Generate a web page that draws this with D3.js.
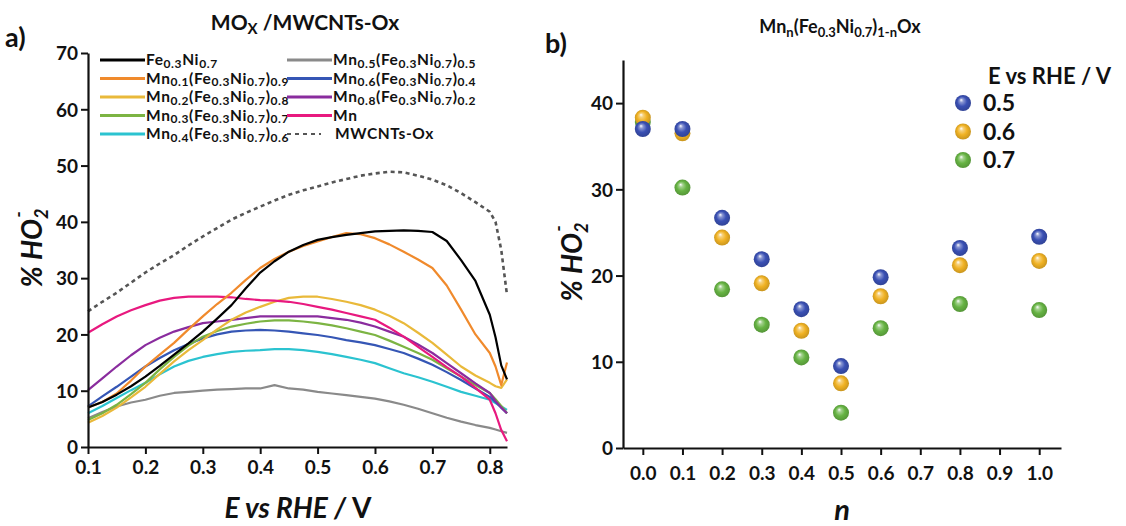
<!DOCTYPE html>
<html><head><meta charset="utf-8">
<script src="https://cdn.jsdelivr.net/npm/d3@7"></script>
<style>
html,body{margin:0;padding:0;background:#fff;}
svg text{font-family:Lato,"Open Sans",sans-serif;fill:#111;}
</style></head>
<body><svg id="c" width="1126" height="526"></svg>
<script>
// ---------- Panel a data ----------
const potentialA = [0.1,0.125,0.15,0.175,0.2,0.225,0.25,0.275,0.3,0.325,0.35,0.375,0.4,0.425,0.45,0.475,0.5,0.525,0.55,0.575,0.6,0.625,0.65,0.675,0.7,0.725,0.75,0.775,0.8,0.81,0.82,0.83];
const fe03ni07 = [7.0,8.0,9.3,10.8,12.5,14.4,16.4,18.4,20.5,22.8,25.2,28.2,31.0,33.0,34.7,35.9,36.8,37.3,37.7,38.0,38.3,38.4,38.5,38.4,38.2,36.6,33.2,29.5,23.5,19.5,14.5,12.0];
const mn01 = [7.0,8.0,9.5,11.8,14.3,16.4,18.5,20.9,23.2,25.4,27.4,29.7,31.8,33.4,34.7,35.7,36.5,37.3,38.0,37.8,37.1,36.0,34.7,33.3,31.8,28.7,24.4,20.0,16.7,14.3,11.0,15.0];
const mn02 = [4.3,5.5,7.0,8.8,10.7,13.0,15.2,17.2,19.0,20.9,22.6,23.9,24.9,25.8,26.5,26.7,26.7,26.3,25.8,25.2,24.4,23.3,22.0,20.3,18.5,16.4,14.3,12.7,11.4,10.8,10.5,12.0];
const mn03 = [4.8,6.0,7.5,9.4,11.4,13.8,16.0,18.0,19.6,20.6,21.4,21.9,22.3,22.5,22.5,22.3,22.0,21.6,21.1,20.5,19.9,18.9,17.8,16.7,15.5,14.0,12.5,11.0,9.6,8.5,7.3,6.0];
const mn04 = [6.0,7.3,8.7,10.1,11.4,12.9,14.3,15.3,16.0,16.5,16.9,17.1,17.2,17.4,17.4,17.2,16.9,16.5,16.0,15.5,14.9,14.0,13.1,12.4,11.6,10.7,9.8,9.1,8.4,7.8,7.2,6.6];
const mn05 = [5.1,6.2,7.2,7.9,8.4,9.1,9.6,9.8,10.0,10.2,10.3,10.4,10.4,11.0,10.4,10.2,9.8,9.5,9.2,8.9,8.6,8.1,7.5,6.8,6.0,5.2,4.5,3.9,3.4,3.1,2.8,2.5];
const mn06 = [7.2,9.0,10.7,12.5,14.3,15.8,17.2,18.3,19.3,20.0,20.5,20.7,20.8,20.7,20.5,20.2,19.9,19.5,19.0,18.6,18.1,17.4,16.7,15.7,14.6,13.3,11.9,10.4,8.9,8.0,7.0,6.0];
const mn08 = [10.1,12.2,14.3,16.3,18.1,19.4,20.5,21.3,22.0,22.3,22.6,22.9,23.2,23.2,23.2,23.2,23.2,22.9,22.6,22.1,21.4,20.5,19.6,18.2,16.7,14.9,13.1,11.3,9.6,8.2,7.0,6.0];
const mnOnly = [20.3,21.8,23.2,24.3,25.2,26.0,26.5,26.7,26.7,26.7,26.6,26.3,26.1,26.0,25.8,25.4,24.9,24.4,23.8,23.2,22.6,21.2,19.6,17.8,16.0,14.2,12.5,10.5,8.4,6.0,3.0,1.0];
const mwcnt = [24.1,25.8,27.4,29.2,31.0,32.6,34.1,35.8,37.4,38.9,40.4,41.6,42.7,43.8,44.8,45.6,46.3,47.0,47.6,48.2,48.6,48.9,48.8,48.2,47.5,46.5,45.1,43.5,41.8,40.0,35.0,27.0];
const seriesNamesA = ["Fe_{0.3}Ni_{0.7}","Mn_{0.1}(Fe_{0.3}Ni_{0.7})_{0.9}","Mn_{0.2}(Fe_{0.3}Ni_{0.7})_{0.8}","Mn_{0.3}(Fe_{0.3}Ni_{0.7})_{0.7}","Mn_{0.4}(Fe_{0.3}Ni_{0.7})_{0.6}","Mn_{0.5}(Fe_{0.3}Ni_{0.7})_{0.5}","Mn_{0.6}(Fe_{0.3}Ni_{0.7})_{0.4}","Mn_{0.8}(Fe_{0.3}Ni_{0.7})_{0.2}","Mn","MWCNTs-Ox"];
const seriesValuesA = [fe03ni07,mn01,mn02,mn03,mn04,mn05,mn06,mn08,mnOnly,mwcnt];
const xTicksA = [0.1,0.2,0.3,0.4,0.5,0.6,0.7,0.8];
const yTicksA = [0,10,20,30,40,50,60,70];

// ---------- Panel b data ----------
const nValues = [0.0,0.1,0.2,0.3,0.4,0.5,0.6,0.8,1.0];
const e05 = [37.0,37.0,26.7,21.9,16.1,9.5,19.8,23.2,24.5];
const e06 = [38.3,36.5,24.4,19.1,13.6,7.5,17.6,21.2,21.7];
const e07 = [37.8,30.2,18.4,14.3,10.5,4.1,13.9,16.7,16.0];
const potentialLabelsB = ["0.5","0.6","0.7"];
const xTicksB = [0.0,0.1,0.2,0.3,0.4,0.5,0.6,0.7,0.8,0.9,1.0];
const yTicksB = [0,10,20,30,40];

// ---------- styles ----------
const colorsA = ["#000000","#f08a2c","#e9b93a","#7cb443","#2bc3d0","#8a8a8a","#3556b5","#8a2c9e","#e8197f","#555555"];
const colorsB = ["#3a50b4","#f0b224","#66b343"];

const svg = d3.select("#c");

function richText(sel, str, size, subSize, shift){
  const re = /_\{([^}]*)\}/g; let last=0, m, parts=[];
  while((m=re.exec(str))){ if(m.index>last) parts.push({t:str.slice(last,m.index),s:false}); parts.push({t:m[1],s:true}); last=re.lastIndex; }
  if(last<str.length) parts.push({t:str.slice(last),s:false});
  let down=false;
  parts.forEach(p=>{
    const ts = sel.append("tspan").text(p.t);
    if(p.s){ ts.attr("font-size",subSize).attr("dy", down?0:shift); down=true; }
    else { ts.attr("font-size",size).attr("dy", down?-shift:0); down=false; }
  });
}

// ================= Panel a =================
const xA = d3.scaleLinear().domain([0.1,0.83]).range([88,507]);
const yA = d3.scaleLinear().domain([0,70]).range([447,53]);

const gA = svg.append("g");
const line = d3.line().x((d,i)=>xA(potentialA[i])).y(d=>yA(d));
const orderA = [9,5,4,6,3,7,2,8,1,0];
orderA.forEach(k=>{
  gA.append("path").datum(seriesValuesA[k])
    .attr("d",line).attr("fill","none")
    .attr("stroke",colorsA[k]).attr("stroke-width", k===9?2.6:2.2)
    .attr("stroke-dasharray", k===9?"4,3.5":null)
    .attr("stroke-linejoin","round");
});

const axA_x = gA.append("g").attr("transform","translate(0,447)")
  .call(d3.axisBottom(xA).tickValues(xTicksA).tickSize(7).tickSizeOuter(0).tickFormat(d3.format(".1f")));
const axA_y = gA.append("g").attr("transform","translate(88,0)")
  .call(d3.axisLeft(yA).tickValues(yTicksA).tickSize(7).tickSizeOuter(0));
[axA_x,axA_y].forEach(a=>{
  a.select(".domain").attr("stroke","#111").attr("stroke-width",2.2);
  a.selectAll(".tick line").attr("stroke","#111").attr("stroke-width",2);
  a.selectAll(".tick text").attr("font-size",19).attr("font-weight","bold").attr("fill","#111").style("font-family","Lato");
});
axA_x.selectAll(".tick text").attr("dy","0.9em");
axA_y.selectAll(".tick text").attr("x",-10).attr("dy","0.36em");

// title a
const tA = gA.append("text").attr("x",305).attr("y",30).attr("text-anchor","middle").attr("font-weight","bold");
tA.append("tspan").attr("font-size",21).text("MO");
tA.append("tspan").attr("font-size",15).attr("dy",4).text("X");
tA.append("tspan").attr("font-size",21).attr("dy",-4).text(" /MWCNTs-Ox");
gA.append("text").attr("x",5).attr("y",47).attr("font-size",27).attr("font-weight","bold").text("a)");

// axis labels a
const ylA = gA.append("text").attr("transform","translate(42,248) rotate(-90)").attr("text-anchor","middle")
  .attr("font-weight","bold").attr("font-style","italic");
ylA.append("tspan").attr("font-size",28).text("% HO");
ylA.append("tspan").attr("font-size",18).attr("dy",6).text("2");
ylA.append("tspan").attr("font-size",18).attr("dx",-9).attr("dy",-23).text("-");
const xlA = gA.append("text").attr("x",298).attr("y",518).attr("text-anchor","middle").attr("font-weight","bold").attr("font-size",28);
xlA.append("tspan").attr("font-style","italic").text("E vs RHE / ");
xlA.append("tspan").text("V");

// legend a
const legRowsY = [60,78.5,97,115.5,134];
seriesNamesA.forEach((name,k)=>{
  const col = k<5?0:1, row = k%5;
  const x0 = col===0?100:287, x1 = col===0?145:332;
  const y = legRowsY[row];
  gA.append("line").attr("x1",x0).attr("x2",k===9?321:x1).attr("y1",y).attr("y2",y)
    .attr("stroke",colorsA[k]).attr("stroke-width",k===9?2.2:2.8)
    .attr("stroke-dasharray",k===9?"4,4":null);
  const t = gA.append("text").attr("x",k===9?335:x1+1).attr("y",y+5).attr("font-weight","bold")
    .attr("letter-spacing",0.6);
  richText(t,name,15.5,12,2.5);
});

// ================= Panel b =================
const xB = d3.scaleLinear().domain([-0.05,1.055]).range([623,1061]);
const yB = d3.scaleLinear().domain([0,45]).range([448,60]);
const gB = svg.append("g");

const axB_x = gB.append("g").attr("transform","translate(0,448)")
  .call(d3.axisBottom(xB).tickValues(xTicksB).tickSize(7).tickSizeOuter(0).tickFormat(d3.format(".1f")));
const axB_y = gB.append("g").attr("transform","translate(623,0)")
  .call(d3.axisLeft(yB).tickValues(yTicksB).tickSize(7).tickSizeOuter(0));
[axB_x,axB_y].forEach(a=>{
  a.select(".domain").attr("stroke","#111").attr("stroke-width",2.2);
  a.selectAll(".tick line").attr("stroke","#111").attr("stroke-width",2);
  a.selectAll(".tick text").attr("font-size",19).attr("font-weight","bold").attr("fill","#111").style("font-family","Lato");
});
axB_x.selectAll(".tick text").attr("dy","1.15em");
axB_y.selectAll(".tick text").attr("x",-10).attr("dy","0.36em");

// gradients
const defs = svg.append("defs");
colorsB.forEach((c,i)=>{
  const g = defs.append("radialGradient").attr("id","sph"+i).attr("cx","50%").attr("cy","50%").attr("r","55%").attr("fx","38%").attr("fy","30%");
  g.append("stop").attr("offset","0%").attr("stop-color","#ffffff");
  g.append("stop").attr("offset","22%").attr("stop-color",d3.interpolateRgb("#ffffff",c)(0.6));
  g.append("stop").attr("offset","55%").attr("stop-color",c);
  g.append("stop").attr("offset","100%").attr("stop-color",d3.color(c).darker(0.6));
});

const seriesB = [e05,e06,e07];
[2,1,0].forEach(k=>{
  gB.append("g").selectAll("circle").data(seriesB[k]).join("circle")
    .attr("cx",(d,i)=>xB(nValues[i])).attr("cy",d=>yB(d)).attr("r",8)
    .attr("fill",`url(#sph${k})`);
});

// title b
const tB = gB.append("text").attr("x",840).attr("y",33).attr("text-anchor","middle").attr("font-weight","bold");
richText(tB,"Mn_{n}(Fe_{0.3}Ni_{0.7})_{1-n}Ox",18,13,4);
gB.append("text").attr("x",545).attr("y",53).attr("font-size",27).attr("font-weight","bold").text("b)");

const ylB = gB.append("text").attr("transform","translate(582,262) rotate(-90)").attr("text-anchor","middle")
  .attr("font-weight","bold").attr("font-style","italic");
ylB.append("tspan").attr("font-size",28).text("% HO");
ylB.append("tspan").attr("font-size",18).attr("dy",6).text("2");
ylB.append("tspan").attr("font-size",18).attr("dx",-9).attr("dy",-23).text("-");
gB.append("text").attr("x",842).attr("y",520).attr("text-anchor","middle").attr("font-weight","bold").attr("font-style","italic").attr("font-size",29).text("n");

// legend b
gB.append("text").attr("x",988).attr("y",84).attr("font-size",22).attr("font-weight","bold").text("E vs RHE / V");
potentialLabelsB.forEach((lab,k)=>{
  const y = 103 + k*28.5;
  gB.append("circle").attr("cx",963).attr("cy",y).attr("r",8).attr("fill",`url(#sph${k})`);
  gB.append("text").attr("x",983).attr("y",y+8).attr("font-size",23).attr("font-weight","bold").text(lab);
});
</script></body></html>
